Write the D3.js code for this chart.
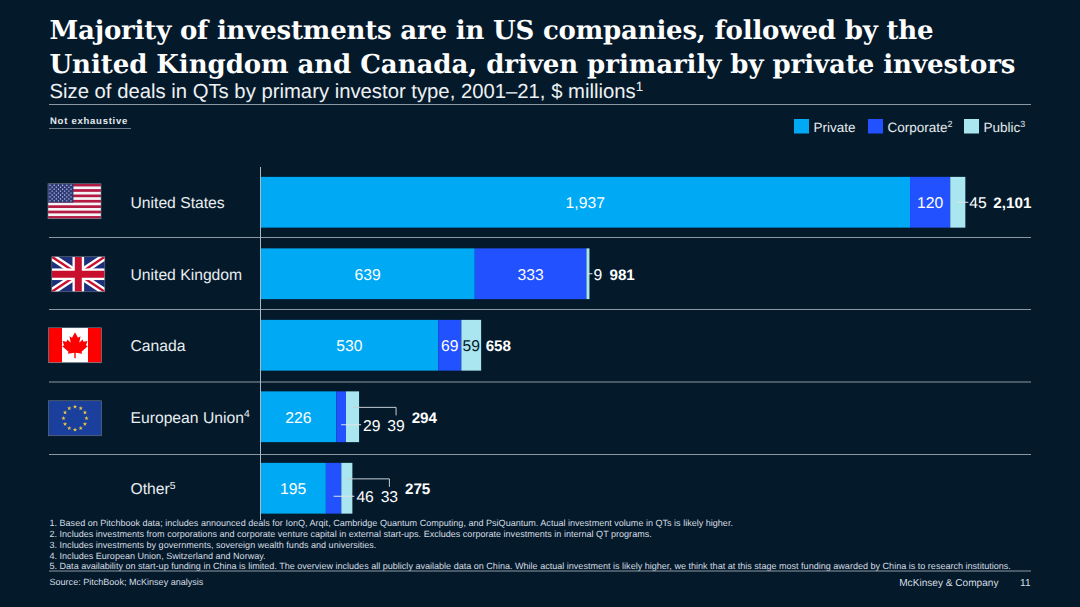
<!DOCTYPE html>
<html><head><meta charset="utf-8">
<script src="https://cdn.jsdelivr.net/npm/d3@7"></script>
<style>
html,body{margin:0;padding:0;background:#041a2b;overflow:hidden}
svg{display:block}
text{font-family:"Liberation Sans",Arial,sans-serif;fill:#fff;text-rendering:geometricPrecision}
</style></head><body><svg id="c" width="1080" height="607"></svg>
<script>
const categories=["United States","United Kingdom","Canada","European Union","Other"];
const categorySup=["","","","4","5"];
const flags=["us","uk","ca","eu",null];
const seriesNames=["Private","Corporate","Public"];
const seriesSup=["","2","3"];
const privateVals=[1937,639,530,226,195];
const corporateVals=[120,333,69,29,46];
const publicVals=[45,9,59,39,33];
const totals=[2101,981,658,294,275];
const seriesColors=["#00a9f4","#2251ff","#aae6f0"];
const titleLines=["Majority of investments are in US companies, followed by the","United Kingdom and Canada, driven primarily by private investors"];
const notes=["1. Based on Pitchbook data; includes announced deals for IonQ, Arqit, Cambridge Quantum Computing, and PsiQuantum. Actual investment volume in QTs is likely higher.",
"2. Includes investments from corporations and corporate venture capital in external start-ups. Excludes corporate investments in internal QT programs.",
"3. Includes investments by governments, sovereign wealth funds and universities.",
"4. Includes European Union, Switzerland and Norway.",
"5. Data availability on start-up funding in China is limited. The overview includes all publicly available data on China. While actual investment is likely higher, we think that at this stage most funding awarded by China is to research institutions."];

const svg=d3.select("#c");
const rule="#8b98a3";
const x=d3.scaleLinear().domain([0,2101]).range([260.5,965]);
const y=d3.scaleBand().domain(categories).range([166.5,524]).paddingInner(0.29).paddingOuter(0.145);
const stack=categories.map((c,i)=>{const p=privateVals[i],k=corporateVals[i],u=publicVals[i];
  return {c,i,segs:[[0,p],[p,p+k],[p+k,p+k+u]],vals:[p,k,u],total:totals[i]};});

function hline(x1,x2,yy,col,w){svg.append("line").attr("x1",x1).attr("x2",x2).attr("y1",yy).attr("y2",yy).attr("stroke",col).attr("stroke-width",w||1);}
function vline(xx,y1,y2,col,w){svg.append("line").attr("x1",xx).attr("x2",xx).attr("y1",y1).attr("y2",y2).attr("stroke",col).attr("stroke-width",w||1);}
function txt(t,xx,yy,size,opts={}){const e=svg.append("text").attr("x",xx).attr("y",yy).attr("font-size",size)
  .attr("text-anchor",opts.anchor||"start").attr("font-weight",opts.bold?"bold":"normal").style("fill",opts.fill||"#fff");
  e.append("tspan").text(t);
  if(opts.sup){e.append("tspan").text(opts.sup).attr("font-size",size*0.66).attr("dy",-size*0.36);}
  return e;}

// Title
titleLines.forEach((l,i)=>{
  svg.append("text").attr("x",49.5).attr("y",39+i*34).attr("font-size",26).attr("font-weight","bold")
   .style("font-family",'"DejaVu Serif",serif').attr("textLength",[884,966][i]).attr("lengthAdjust","spacing").text(l);
});
txt("Size of deals in QTs by primary investor type, 2001–21, $ millions",49.5,98,20.3,{sup:"1",fill:"#eef1f3"});
hline(49,1031,104.5,rule);
svg.append("text").attr("x",50).attr("y",124).attr("font-size",9.5).attr("font-weight","bold").style("letter-spacing","0.75px").style("fill","#e6eaed").text("Not exhaustive");
hline(49,131,128.5,rule,0.8);

// Legend
const legendX=[794,868,964];
seriesNames.forEach((n,i)=>{
  svg.append("rect").attr("x",legendX[i]).attr("y",119).attr("width",15).attr("height",14.5).attr("fill",seriesColors[i]);
  txt(n,legendX[i]+19.5,131.5,13.5,{sup:seriesSup[i],fill:"#e6eaed"});
});

// Separators
[237.5,309.5,382,454.5].forEach(v=>hline(49,1031,v,rule));

// Bars
stack.forEach(d=>{
  svg.append("g").selectAll("rect").data(d.segs).join("rect")
   .attr("x",s=>x(s[0])).attr("width",s=>x(s[1])-x(s[0]))
   .attr("y",y(d.c)).attr("height",y.bandwidth()).attr("fill",(s,j)=>seriesColors[j]);
});
vline(260.5,167,520,"#aeb8c0");

// Labels
const S=15.7,T=15.2;
stack.forEach(d=>{
  const top=y(d.c),bw=y.bandwidth(),cy=top+bw/2,base=cy+6,end=x(d.segs[2][1]);
  const mid=s=>(x(s[0])+x(s[1]))/2;
  txt(d.c,130.5,base,S,{sup:categorySup[d.i],fill:"#e9edf0"});
  txt(d3.format(",")(d.vals[0]),mid(d.segs[0]),base,S,{anchor:"middle"});
  if(d.i<3) txt(d.vals[1],mid(d.segs[1]),base,S,{anchor:"middle"});
  if(d.i===2){
    txt(d.vals[2],mid(d.segs[2]),base,S,{anchor:"middle",fill:"#041a2b"});
    txt(d3.format(",")(d.total),end+4.5,base,T,{bold:true});
  } else if(d.i<2){
    hline(mid(d.segs[2]),end+3,cy,"#dfe4e8");
    txt(d.vals[2],end+4,base,S,{});
    txt(d3.format(",")(d.total),end+(d.i===0?28:20),base,T,{bold:true});
  } else {
    const lowY=cy+8;
    hline(mid(d.segs[1]),end+2,lowY,"#dfe4e8");
    txt(d.vals[1],end+4,lowY+6,S,{});
    const tx=end+37;
    svg.append("path").attr("fill","none").attr("stroke","#c6ced4").attr("stroke-width",1)
      .attr("d",d3.line()([[mid(d.segs[2]),top+16],[tx,top+16],[tx,top+24]]));
    txt(d.vals[2],tx,lowY+6,S,{anchor:"middle"});
    txt(d3.format(",")(d.total),end+52.6,base,T,{bold:true});
  }
});

// Flags (vector drawings, 53x35)
const flagOffset={us:[48,-1],uk:[51.8,0.5],ca:[48.5,0],eu:[48.5,1.5]};
function flag(kind,cy){
  const w=53,h=35,fx=flagOffset[kind][0],fy=cy-h/2+flagOffset[kind][1];
  const g=svg.append("g").attr("transform",`translate(${fx},${fy})`);
  const clip="cl"+kind;
  g.append("clipPath").attr("id",clip).append("rect").attr("width",w).attr("height",h);
  const f=g.append("g").attr("clip-path",`url(#${clip})`);
  const R=(a,b,c,d,col)=>f.append("rect").attr("x",a).attr("y",b).attr("width",c).attr("height",d).attr("fill",col);
  if(kind==="us"){
    R(0,0,w,h,"#f4f4f6");
    d3.range(0,13,2).forEach(k=>R(0,k*h/13,w,h/13,"#b31942"));
    R(0,0,w*0.48,h*7/13,"#2c3a78");
    d3.range(9).forEach(r=>d3.range(r%2?5:6).forEach(c=>{
      f.append("circle").attr("cx",2+c*4.2+(r%2?2.1:0)).attr("cy",1.5+r*1.95).attr("r",0.65).attr("fill","#dfe3f0");}));
  } else if(kind==="uk"){
    R(0,0,w,h,"#1c2f7a");
    const L=(a,b,c,d,col,sw)=>f.append("line").attr("x1",a).attr("y1",b).attr("x2",c).attr("y2",d).attr("stroke",col).attr("stroke-width",sw);
    L(0,0,w,h,"#fff",7);L(w,0,0,h,"#fff",7);
    L(0,0,w,h,"#c8102e",2.4);L(w,0,0,h,"#c8102e",2.4);
    R(w/2-5.8,0,11.6,h,"#fff");R(0,h/2-5.8,w,11.6,"#fff");
    R(w/2-3.5,0,7,h,"#c8102e");R(0,h/2-3.5,w,7,"#c8102e");
  } else if(kind==="ca"){
    R(0,0,w,h,"#fff");R(0,0,13.5,h,"#f00");R(w-13.5,0,13.5,h,"#f00");
    const leaf=[[0,-13],[3,-7.5],[5.5,-9],[4.3,-2.5],[7.5,-5.8],[8.5,-3.5],[12.5,-4.3],[11,0],[12.8,1],[6.5,6.5],[7.2,8.5],[0.7,7.6],[0.7,13],[-0.7,13],[-0.7,7.6],[-7.2,8.5],[-6.5,6.5],[-12.8,1],[-11,0],[-12.5,-4.3],[-8.5,-3.5],[-7.5,-5.8],[-4.3,-2.5],[-5.5,-9],[-3,-7.5]];
    f.append("path").attr("d",d3.line()(leaf)+"Z").attr("transform",`translate(${w/2},${h/2})`).attr("fill","#f00");
  } else {
    R(0,0,w,h,"#1b3f9c");
    d3.range(12).forEach(k=>{const a=k*Math.PI/6;
      f.append("path").attr("d",d3.symbol(d3.symbolStar,6)()).attr("fill","#e8c840")
       .attr("transform",`translate(${w/2+11.5*Math.sin(a)},${h/2-11.5*Math.cos(a)})`);});
  }
  g.append("rect").attr("width",w).attr("height",h).attr("fill","none").attr("stroke","#6f7f8c").attr("stroke-width",0.6);
}
stack.forEach(d=>{if(flags[d.i])flag(flags[d.i],y(d.c)+y.bandwidth()/2);});

// Footnotes
notes.forEach((n,i)=>txt(n,49.5,[526,536.5,547.5,558.5,569][i],9.06,{fill:"#d6dce1"}));
hline(49,1031,571,rule);
txt("Source: PitchBook; McKinsey analysis",49.5,584.5,9.05,{fill:"#d6dce1"});
txt("McKinsey & Company",998.5,585.5,10.1,{anchor:"end",fill:"#d6dce1"});
txt("11",1030.5,585.5,10.1,{anchor:"end",fill:"#d6dce1"});
</script></body></html>
